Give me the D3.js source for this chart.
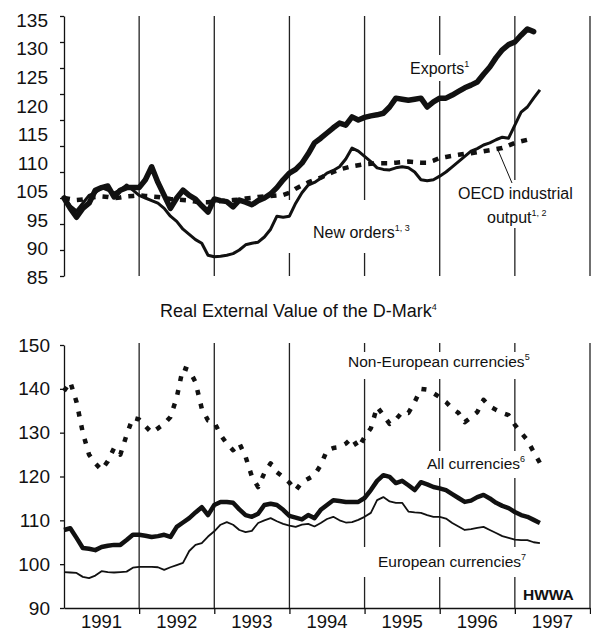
<!DOCTYPE html>
<html>
<head>
<meta charset="utf-8">
<script src="https://cdn.jsdelivr.net/npm/d3@7"></script>
<style>
body { margin: 0; background: #fff; }
svg { display: block; font-family: "Liberation Sans", Arial, sans-serif; }
</style>
</head>
<body>
<svg id="chart" width="591" height="633"></svg>
<script>
// monthly series, index 0 = Jan 1991
const years = ["1991", "1992", "1993", "1994", "1995", "1996", "1997"];
const topTicks = [135, 130, 125, 120, 115, 110, 105, 100, 95, 90, 85];
const topTickLabels = ["135", "130", "125", "120", "115", "110", "105", "95", "90", "85"];
const bottomTicks = [150, 140, 130, 120, 110, 100, 90];

const exportsIdx = [100, 98, 96.3, 98, 99, 101.5, 102, 102.3, 100.2, 101.5, 102, 102,
    102, 103.5, 106, 103, 100.5, 98, 100, 101.5, 100.5, 99.8, 98.5, 97.3,
    99.8, 99.5, 99.3, 98.3, 99.6, 99.2, 98.7, 99.5, 100, 100.8, 102, 103.5,
    104.8, 105.5, 106.7, 108.5, 110.6, 111.5, 112.5, 113.5, 114.4, 114, 115.6, 115,
    115.5, 115.8, 116, 116.3, 117.5, 119.2, 119, 118.8, 119, 119.2, 117.5, 118.5,
    119.2, 119.2, 119.8, 120.5, 121.2, 121.7, 122.3, 123.8, 125.2, 127, 128.5, 129.5,
    130, 131.3, 132.5, 132];
const newOrders = [100, 98.5, 97.5, 99, 100.5, 101, 102, 101.5, 101, 101.5, 102.5, 101.5,
    100.5, 100, 99.5, 99, 98, 96.5, 95.5, 94, 93, 92, 91.3, 89,
    88.7, 88.8, 89, 89.3, 90, 91, 91.3, 91.5, 92.5, 94, 96.5, 96.3,
    96.5, 99, 101, 102.5, 103, 103.8, 104.8, 105.3, 106, 107.5, 109.6, 109,
    108, 107, 105.8, 105.5, 105.4, 105.8, 106, 105.8, 105, 103.5, 103.3, 103.5,
    104.2, 105, 106, 107, 108, 109, 109.5, 110.2, 110.6, 111.2, 111.7, 111.5,
    114, 116.5, 117.5, 119.2, 120.8];
const oecdOutput = [100, 99.8, 99.6, 99.7, 100, 100.2, 100.3, 100.2, 100, 100.1, 100.3, 100.4,
    100.5, 100.4, 100.3, 100.2, 100, 99.8, 99.7, 99.6, 99.5, 99.3, 99.2, 99.2,
    99.3, 99.4, 99.5, 99.6, 99.7, 99.9, 100, 100.2, 100.3, 100.4, 100.5, 100.6,
    101, 101.8, 102.4, 103, 103.5, 103.9, 104.5, 105, 105.5, 105.8, 106.1, 106.3,
    106.5, 106.6, 106.7, 106.7, 106.7, 106.8, 106.9, 107, 106.9, 106.8, 106.8, 107.2,
    107.7, 107.9, 108.1, 108.3, 108.5, 108.6, 108.8, 109, 109.2, 109.4, 109.6, 110.1,
    110.6, 110.9, 111.2, 111.5];

const nonEuropean = [139.5, 141.6, 137, 130, 125, 123, 121.5, 123.5, 126.5, 125, 129.5, 133.4,
    133, 131.5, 130, 131, 132, 133.6, 138, 144.8, 144.3, 141.5, 135.5, 132.8,
    132.4, 129.5, 127.5, 126, 127.6, 124.5, 120, 117.6, 120.8, 123, 121, 119.9,
    118.6, 116.8, 118.7, 119.5, 120.3, 122.6, 126, 126.5, 126.7, 127.5, 128.8, 126.5,
    129, 131, 135.9, 134, 132, 133, 134.7, 134.5, 137, 140, 139.8, 139,
    138.1, 137, 135.5, 134.5, 132.4, 133.5, 134.7, 137.5, 136, 135.2, 134.5, 134,
    131.8, 130, 128.3, 125.6, 123.1];
const allCurrencies = [107.8, 108.2, 106, 103.7, 103.5, 103.2, 103.9, 104.2, 104.4, 104.4, 105.5, 106.7,
    106.7, 106.5, 106.2, 106.4, 106.7, 106.2, 108.5, 109.5, 110.5, 111.8, 113, 111.2,
    113.5, 114.2, 114.2, 114, 112.5, 111.2, 110.8, 111.5, 113.5, 113.8, 113.5, 112.4,
    111, 110.6, 110.2, 111.2, 110.5, 112.4, 113.5, 114.6, 114.4, 114.2, 114.2, 114.2,
    115.1, 116.9, 119, 120.3, 119.9, 118.5, 119, 118, 116.9, 118.7, 118.2, 117.6,
    117.3, 116.9, 116, 115.1, 114.2, 114.5, 115.3, 115.8, 115, 114, 113.3, 112.8,
    111.9, 111.2, 110.8, 110.1, 109.4];
const europeanCurrencies = [98.2, 98.1, 98, 97.1, 96.8, 97.4, 98.4, 98.2, 98.1, 98.2, 98.3, 99.2,
    99.4, 99.4, 99.4, 99.3, 98.7, 99.3, 99.8, 100.3, 103, 104.4, 104.8, 106.3,
    107.5, 109, 109.6, 109, 107.8, 107.3, 107.6, 109.4, 110, 110.5, 109.8, 109.2,
    108.8, 108.5, 109, 109.2, 108.6, 109.4, 110.3, 110.8, 110, 109.5, 109.6, 110.1,
    110.8, 111.7, 114.6, 115.3, 114.3, 114, 114, 112, 111.8, 111.7, 111.2, 110.8,
    110.8, 110.4, 109.4, 108.6, 107.8, 108, 108.3, 108.5, 107.8, 107.1, 106.4, 106,
    105.6, 105.5, 105.5, 105, 104.8];

const svg = d3.select("#chart");
const ink = "#111";

const x = d3.scaleLinear().domain([0, 84]).range([64, 590]);
const yTop = d3.scaleLinear().domain([85, 135]).range([276, 16]);
const yBot = d3.scaleLinear().domain([90, 150]).range([608, 345]);
const yearBreaks = d3.range(12, 85, 12);

// gridlines (year boundaries + right border)
svg.append("g").selectAll("line").data(yearBreaks).join("line")
    .attr("x1", d => x(d)).attr("x2", d => x(d))
    .attr("y1", yTop(135)).attr("y2", yTop(85))
    .style("stroke", "#222").style("stroke-width", 1.3);
svg.append("g").selectAll("line").data(yearBreaks).join("line")
    .attr("x1", d => x(d)).attr("x2", d => x(d))
    .attr("y1", yBot(150) - 2).attr("y2", yBot(90))
    .style("stroke", "#222").style("stroke-width", 1.3);

// white boxes behind the labels break the gridlines
const boxes = [
    [405, 55, 68, 26], [455, 180, 125, 48], [285, 200, 135, 53],
    [340, 352, 206, 27], [420, 451, 112, 27], [360, 547, 186, 30], [519, 585, 64, 20]
];
svg.append("g").selectAll("rect").data(boxes).join("rect")
    .attr("x", d => d[0]).attr("y", d => d[1])
    .attr("width", d => d[2]).attr("height", d => d[3])
    .style("fill", "#fff");

// top chart axis
const topAxis = svg.append("g")
    .attr("transform", "translate(" + x(0) + ",0)")
    .call(d3.axisLeft(yTop).tickValues(topTicks).tickSize(4).tickSizeOuter(0).tickFormat(""));
topAxis.selectAll("line, path").style("stroke", ink).style("stroke-width", 1.3);

// the printed labels are spaced evenly and skip 100
const labelPos = d3.scalePoint().domain(topTickLabels).range([20, 277]);
svg.append("g").selectAll("text").data(topTickLabels).join("text")
    .attr("x", 48).attr("y", d => labelPos(d)).attr("dy", "0.36em")
    .attr("text-anchor", "end")
    .style("font-size", "19px").style("fill", ink)
    .text(d => d);

// bottom chart axes
const botAxis = svg.append("g")
    .attr("transform", "translate(" + x(0) + ",0)")
    .call(d3.axisLeft(yBot).tickValues(bottomTicks).tickSize(4).tickSizeOuter(0).tickPadding(10));
botAxis.selectAll("line, path").style("stroke", ink).style("stroke-width", 1.3);
botAxis.selectAll("text").style("font-size", "19px").style("font-family", "Liberation Sans, Arial, sans-serif").style("fill", ink);

const xAxis = svg.append("g")
    .attr("transform", "translate(0," + yBot(90) + ")")
    .call(d3.axisBottom(x).tickValues(yearBreaks).tickSize(6).tickSizeOuter(0).tickFormat(""));
xAxis.selectAll("line, path").style("stroke", ink).style("stroke-width", 1.3);

svg.append("g").selectAll("text").data(years).join("text")
    .attr("x", (d, i) => x(i * 12 + 6)).attr("y", 628)
    .attr("text-anchor", "middle")
    .style("font-size", "18.5px").style("fill", ink)
    .text(d => d);

// series
const lineTop = d3.line().x((d, i) => x(i)).y(d => yTop(d));
const lineBot = d3.line().x((d, i) => x(i)).y(d => yBot(d));

function drawSeries(data, line, width, dash) {
    const p = svg.append("path")
        .attr("d", line(data))
        .style("fill", "none")
        .style("stroke", ink)
        .style("stroke-width", width)
        .style("stroke-linejoin", "round");
    if (dash) p.style("stroke-dasharray", dash);
    return p;
}

drawSeries(oecdOutput, lineTop, 4.5, "6,7");
drawSeries(newOrders, lineTop, 3);
drawSeries(exportsIdx, lineTop, 5.5).style("stroke-linecap", "round");

drawSeries(nonEuropean, lineBot, 4.5, "5,9");
drawSeries(europeanCurrencies, lineBot, 1.8);
drawSeries(allCurrencies, lineBot, 4.5);

// leader line for OECD label
svg.append("line")
    .attr("x1", 498).attr("y1", 150).attr("x2", 512).attr("y2", 183)
    .style("stroke", ink).style("stroke-width", 1);

// labels
function label(px, py, txt, sup, size, bold) {
    const t = svg.append("text")
        .attr("x", px).attr("y", py)
        .style("font-size", size + "px").style("fill", ink);
    if (bold) t.style("font-weight", "bold");
    t.append("tspan").text(txt);
    if (sup) {
        t.append("tspan").attr("dy", -7).style("font-size", "9px").text(sup);
    }
    return t;
}

label(410, 74, "Exports", "1", 16);
label(458, 199, "OECD industrial", "", 16);
label(487, 223, "output", "1, 2", 16);
label(313, 238, "New orders", "1, 3", 16);

label(160, 317, "Real External Value of the D-Mark", "4", 18);
label(348, 367, "Non-European currencies", "5", 15.5);
label(427, 469, "All currencies", "6", 15.5);
label(378, 567, "European currencies", "7", 15.5);
label(523, 600, "HWWA", "", 15.5, true);
</script>
</body>
</html>
